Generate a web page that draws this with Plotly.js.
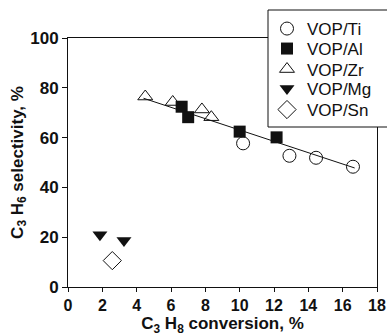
<!DOCTYPE html>
<html><head><meta charset="utf-8">
<script src="https://cdn.plot.ly/plotly-3.0.1.min.js"></script>
<style>html,body{margin:0;padding:0;background:#fff;}#c{width:387px;height:336px;}</style>
</head><body><div id="c"></div>
<script>
const tiX = [10.2, 12.9, 14.45, 16.6];
const tiY = [57.7, 52.7, 51.9, 48.3];
const alX = [6.62, 7.0, 10.0, 12.15];
const alY = [72.4, 68.2, 62.4, 60.1];
const zrX = [4.5, 6.1, 7.8, 8.35];
const zrY = [76.5, 74.3, 71.3, 68.2];
const mgX = [1.86, 3.26];
const mgY = [21.0, 18.7];
const snX = [2.58];
const snY = [10.6];
const fitX = [4.4, 16.7];
const fitY = [75.8, 47.8];
const seriesNames = ['VOP/Ti', 'VOP/Al', 'VOP/Zr', 'VOP/Mg', 'VOP/Sn'];
const xTicks = [0,2,4,6,8,10,12,14,16,18];
const yTicks = [0,20,40,60,80,100];

const W = 387, H = 336, L = 68, R = 10, T = 38, B = 49;
const pw = W - L - R, ph = H - T - B;
const px = v => (v - L) / pw;
const py = v => (H - B - v) / ph;

const ink = '#111111';
const fam = 'Arial';
const traces = [
  {x: fitX, y: fitY, mode: 'lines', line: {color: ink, width: 1}, showlegend: false, hoverinfo: 'skip'},
  {x: tiX, y: tiY, mode: 'markers', name: seriesNames[0], legend: 'legend', marker: {symbol: 'circle-open', size: 13, color: ink, line: {width: 1, color: ink}}},
  {x: alX, y: alY, mode: 'markers', name: seriesNames[1], legend: 'legend2', marker: {symbol: 'square', size: 12, color: ink}},
  {x: zrX, y: zrY, mode: 'markers', name: seriesNames[2], legend: 'legend3', marker: {symbol: 'triangle-up-open', size: 13, color: ink, line: {width: 1, color: ink}}},
  {x: mgX, y: mgY, mode: 'markers', name: seriesNames[3], legend: 'legend4', marker: {symbol: 'triangle-down', size: 13, color: ink}},
  {x: snX, y: snY, mode: 'markers', name: seriesNames[4], legend: 'legend5', marker: {symbol: 'diamond-open', size: 14, color: ink, line: {width: 1, color: ink}}}
];

const legRows = [29, 49, 69.5, 89, 110];
const mkLegend = yc => ({
  x: px(267), y: py(yc), xanchor: 'left', yanchor: 'middle',
  bgcolor: 'rgba(0,0,0,0)', borderwidth: 0,
  font: {family: fam, size: 17, color: ink, weight: 'normal'},
  itemsizing: 'trace'
});
const layout = {
  width: W, height: H,
  font: {family: fam, size: 16, color: ink, weight: 'bold'},
  margin: {l: L, r: R, t: T, b: B, pad: 0},
  paper_bgcolor: '#fff', plot_bgcolor: '#fff',
  showlegend: true,
  xaxis: {
    range: [0, 18], tickvals: xTicks,
    showline: true, linecolor: ink, linewidth: 1, mirror: true,
    ticks: 'outside', ticklen: 4, tickcolor: ink, showgrid: false, zeroline: false,
    tickfont: {family: fam, size: 16, color: ink, weight: 'bold'},
    title: {text: 'C<sub>3</sub> H<sub>8</sub> conversion, %', font: {family: fam, size: 17, color: ink, weight: 'bold'}, standoff: 4}
  },
  yaxis: {
    range: [0, 100], tickvals: yTicks,
    showline: true, linecolor: ink, linewidth: 1, mirror: true,
    ticks: 'outside', ticklen: 5, tickcolor: ink, showgrid: false, zeroline: false,
    tickfont: {family: fam, size: 17, color: ink, weight: 'bold'},
    title: {text: 'C<sub>3</sub> H<sub>6</sub> selectivity, %', font: {family: fam, size: 17, color: ink, weight: 'bold'}, standoff: 2}
  },
  shapes: [{
    type: 'rect', xref: 'paper', yref: 'paper', layer: 'above',
    x0: px(268), x1: px(400), y0: py(127), y1: py(10),
    fillcolor: '#fff', line: {color: ink, width: 1}
  }],
  legend: mkLegend(legRows[0]),
  legend2: mkLegend(legRows[1]),
  legend3: mkLegend(legRows[2]),
  legend4: mkLegend(legRows[3]),
  legend5: mkLegend(legRows[4])
};
Plotly.newPlot('c', traces, layout, {displayModeBar: false, staticPlot: true});
</script></body></html>
